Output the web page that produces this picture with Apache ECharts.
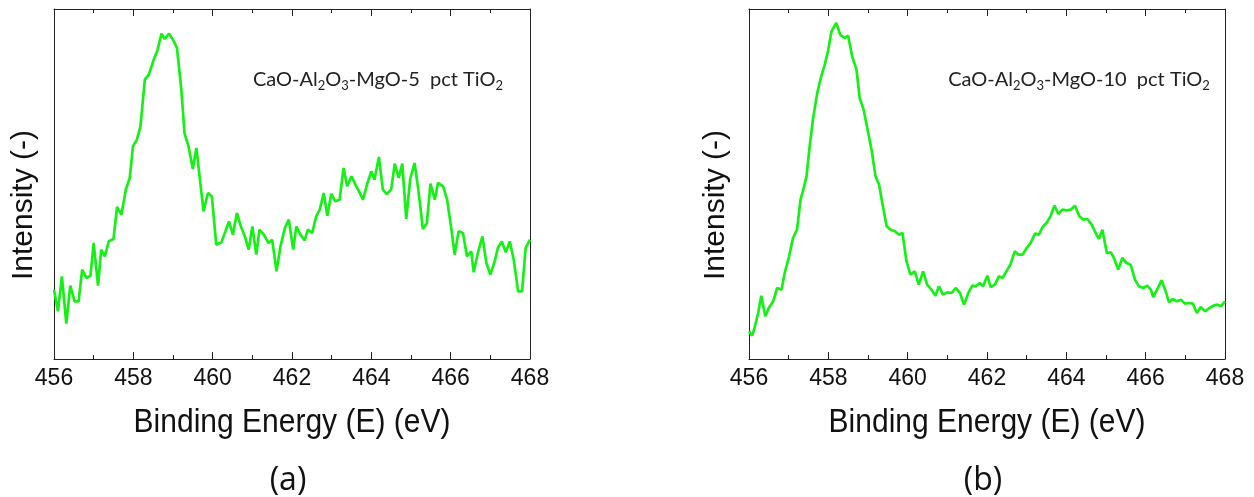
<!DOCTYPE html>
<html>
<head>
<meta charset="utf-8">
<script src="https://cdn.jsdelivr.net/npm/echarts@6/dist/echarts.min.js"></script>
<style>html,body{margin:0;padding:0;background:#fff}#c{width:1254px;height:497px}</style>
</head>
<body>
<div id="c"></div>
<script>
// Binding energy (eV) and intensity (arbitrary units) for panel (a): 5 pct TiO2
const energyA = [456.00,456.10,456.20,456.31,456.41,456.52,456.62,456.71,456.82,456.92,457.00,457.11,457.19,457.28,457.38,457.50,457.59,457.70,457.81,457.91,457.99,458.09,458.18,458.29,458.39,458.50,458.60,458.71,458.79,458.90,459.00,459.10,459.21,459.29,459.39,459.50,459.59,459.67,459.77,459.88,459.98,460.09,460.22,460.32,460.41,460.51,460.61,460.71,460.81,460.91,461.00,461.10,461.18,461.29,461.41,461.50,461.61,461.71,461.82,461.92,462.03,462.11,462.21,462.32,462.40,462.51,462.61,462.70,462.80,462.89,462.99,463.09,463.20,463.30,463.39,463.50,463.60,463.69,463.79,463.89,464.00,464.08,464.19,464.29,464.39,464.50,464.59,464.69,464.78,464.88,464.98,465.09,465.19,465.30,465.40,465.49,465.60,465.68,465.81,465.91,466.02,466.10,466.20,466.31,466.41,466.52,466.58,466.69,466.80,466.90,467.00,467.11,467.19,467.29,467.39,467.49,467.59,467.70,467.80,467.89,468.00];
const intensityA = [20.8,14.3,24.8,10.6,22.0,17.3,17.3,26.8,24.3,25.0,34.8,22.0,32.8,30.8,35.3,36.0,45.6,43.3,50.8,54.3,63.8,65.8,69.8,83.8,85.3,89.3,92.3,97.6,96.0,97.6,95.8,93.3,80.8,67.8,63.8,57.0,63.3,54.8,44.3,49.8,48.8,34.3,35.0,38.3,41.3,37.3,43.8,39.8,36.8,32.8,39.8,31.3,38.8,37.3,34.8,35.8,26.3,33.8,39.3,41.8,32.8,39.8,37.3,35.6,38.8,37.8,42.8,44.8,49.8,43.0,49.6,47.3,47.8,57.3,51.8,54.8,52.3,50.3,47.8,52.3,56.3,53.8,60.6,50.8,49.5,50.8,58.6,54.3,58.6,42.0,54.0,58.8,50.3,39.0,40.8,52.6,47.8,52.8,51.8,47.8,38.8,31.3,38.3,37.8,30.8,32.3,26.0,32.0,36.8,28.8,25.3,29.3,33.3,35.3,32.0,35.3,29.8,20.3,20.3,33.3,35.8];

// Panel (b): 10 pct TiO2
const energyB = [456.00,456.08,456.14,456.23,456.31,456.41,456.50,456.61,456.71,456.82,456.90,457.01,457.11,457.21,457.30,457.39,457.45,457.53,457.61,457.72,457.81,457.91,457.99,458.08,458.20,458.30,458.41,458.50,458.60,458.71,458.79,458.89,458.99,459.09,459.19,459.28,459.36,459.47,459.57,459.68,459.78,459.87,459.97,460.07,460.18,460.28,460.39,460.49,460.60,460.70,460.79,460.89,461.00,461.11,461.21,461.32,461.42,461.53,461.63,461.72,461.82,461.90,462.01,462.09,462.20,462.30,462.39,462.49,462.59,462.70,462.80,462.90,463.00,463.10,463.21,463.31,463.40,463.50,463.60,463.70,463.80,463.90,464.01,464.11,464.22,464.32,464.43,464.53,464.64,464.72,464.82,464.91,465.02,465.12,465.20,465.31,465.41,465.52,465.62,465.73,465.83,465.94,466.04,466.13,466.19,466.29,466.40,466.49,466.59,466.68,466.78,466.89,466.99,467.10,467.19,467.29,467.39,467.50,467.61,467.71,467.81,467.90,468.00];
const intensityB = [8.3,7.0,9.3,13.8,19.0,12.8,15.3,17.3,21.3,20.8,25.8,30.8,36.3,38.8,47.8,51.8,54.8,63.8,71.8,79.8,84.3,88.3,92.3,98.3,100.8,97.3,96.3,97.0,90.8,86.8,78.3,74.8,68.8,62.8,54.8,52.3,46.8,39.8,38.8,38.3,37.3,37.8,29.3,25.3,26.3,22.3,26.3,22.3,20.8,19.0,21.8,19.3,20.0,19.8,21.3,19.8,16.3,19.8,22.0,21.8,22.8,21.8,25.0,21.6,22.3,24.8,24.3,26.3,28.3,32.3,31.3,31.3,33.3,34.8,37.6,37.3,39.6,40.8,42.8,46.0,43.5,44.8,44.6,44.8,46.0,43.0,41.8,42.0,40.3,38.3,36.0,38.8,31.8,32.0,30.3,26.8,30.3,28.8,28.3,23.8,21.8,21.3,22.0,20.8,18.6,20.8,23.6,20.8,17.0,18.0,17.3,17.8,16.6,16.8,16.6,13.8,15.6,14.3,15.3,16.0,16.3,15.8,17.3];

const xTickLabels = ['456','458','460','462','464','466','468'];
const xName = 'Binding Energy (E) (eV)';
const yName = 'Intensity (-)';
const panelLabels = ['(a)', '(b)'];
const annotations = ['CaO-Al{s|2}O{s|3}-MgO-5  pct TiO{s|2}', 'CaO-Al{s|2}O{s|3}-MgO-10  pct TiO{s|2}'];

const GREEN = '#16f016';
const AXIS = '#222';
const grids = [
  {left: 54, top: 9, width: 476, height: 350},
  {left: 749, top: 9, width: 476, height: 350}
];
const yNameX = [24, 716];
const annoX = [378, 1079];

const xAxes = [], yAxes = [], series = [];
grids.forEach((g, i) => {
  const common = {
    type: 'value', gridIndex: i, min: 456, max: 468, interval: 2,
    axisLine: {show: true, onZero: false, lineStyle: {color: AXIS, width: 1}},
    axisTick: {show: true, inside: true, length: 7, lineStyle: {color: AXIS}},
    minorTick: {show: true, splitNumber: 2, length: 4, lineStyle: {color: AXIS}},
    splitLine: {show: false}, minorSplitLine: {show: false}
  };
  xAxes.push(Object.assign({}, common, {
    position: 'bottom',
    axisLabel: {show: true, margin: 8, fontSize: 23, color: '#111', fontFamily: 'Liberation Sans',
      formatter: v => xTickLabels[Math.round((v - 456) / 2)] || ''}
  }));
  xAxes.push(Object.assign({}, common, {position: 'top', axisLabel: {show: false}}));
  const yc = {
    type: 'value', gridIndex: i, min: 0, max: 105,
    axisLine: {show: true, onZero: false, lineStyle: {color: AXIS, width: 1}},
    axisTick: {show: false}, axisLabel: {show: false}, splitLine: {show: false}
  };
  yAxes.push(Object.assign({}, yc, {position: 'left'}));
  yAxes.push(Object.assign({}, yc, {position: 'right'}));
});

const data = [[energyA, intensityA], [energyB, intensityB]];
data.forEach((d, i) => {
  series.push({
    type: 'line', xAxisIndex: i * 2, yAxisIndex: i * 2,
    data: d[0].map((x, k) => [x, d[1][k]]),
    showSymbol: false, symbol: 'none',
    lineStyle: {color: GREEN, width: 2.7}, itemStyle: {color: GREEN},
    silent: true
  });
});

const graphic = [];
grids.forEach((g, i) => {
  const cx = g.left + g.width / 2;
  graphic.push({type: 'text', x: cx, y: 423, scaleY: 1.12, style: {text: xName, font: '30px "Liberation Sans"', fill: '#111', align: 'center', verticalAlign: 'middle'}});
  graphic.push({type: 'text', x: cx - 4, y: 481, style: {text: panelLabels[i], font: '32px "Open Sans"', fill: '#111', align: 'center', verticalAlign: 'middle'}});
  graphic.push({type: 'text', x: yNameX[i], y: 205, rotation: Math.PI / 2, style: {text: yName, font: '30px "Liberation Sans"', fill: '#111', align: 'center', verticalAlign: 'middle'}});
  graphic.push({type: 'text', x: annoX[i], y: 80, style: {
    text: annotations[i], align: 'center', verticalAlign: 'middle',
    rich: {
      s: {fontSize: 13, fontFamily: 'Lato', fill: '#222', verticalAlign: 'bottom', lineHeight: 14, padding: [9, 0, 0, 0]}
    },
    fontSize: 20, fontFamily: 'Lato', fill: '#222', lineHeight: 24
  }});
});

const chart = echarts.init(document.getElementById('c'), null, {renderer: 'canvas'});
chart.setOption({
  animation: false,
  grid: grids,
  xAxis: xAxes,
  yAxis: yAxes,
  series: series,
  graphic: graphic
});
</script>
</body>
</html>
